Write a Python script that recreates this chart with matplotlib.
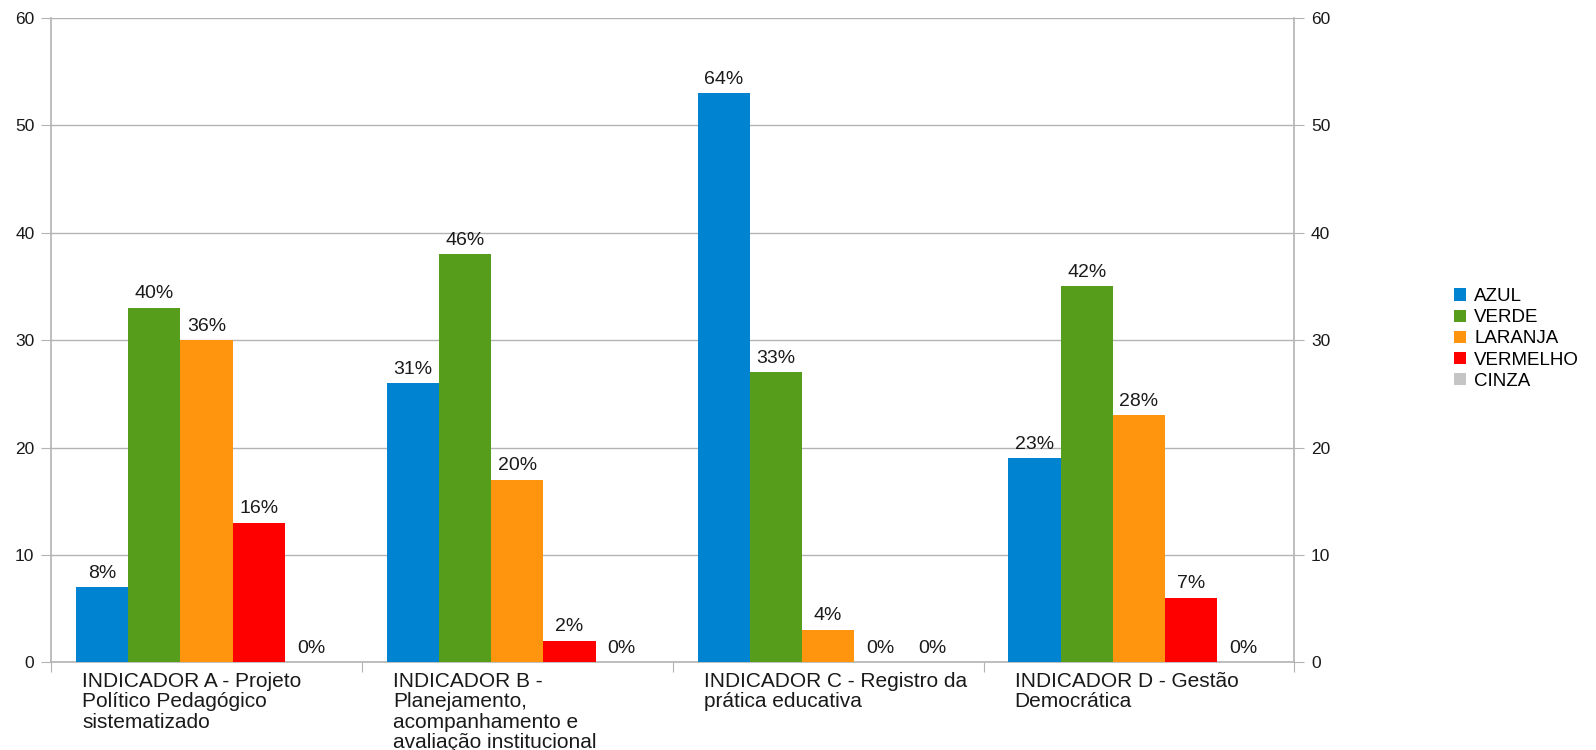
import numpy as np
import matplotlib
matplotlib.use('Agg')
import matplotlib.pyplot as plt
import matplotlib.ticker as ticker
from matplotlib.patches import Patch

plt.rcParams['font.family'] = ['Liberation Sans', 'DejaVu Sans']

categorias = ['INDICADOR A - Projeto\nPolítico Pedagógico\nsistematizado',
              'INDICADOR B -\nPlanejamento,\nacompanhamento e\navaliação institucional',
              'INDICADOR C - Registro da\nprática educativa',
              'INDICADOR D - Gestão\nDemocrática']
series = ['AZUL', 'VERDE', 'LARANJA', 'VERMELHO', 'CINZA']
cores = ['#0084d1', '#579d1c', '#ff950e', '#ff0000', '#c5c5c5']

azul = [7, 26, 53, 19]
verde = [33, 38, 27, 35]
laranja = [30, 17, 3, 23]
vermelho = [13, 2, 0, 6]
cinza = [0, 0, 0, 0]

pct_azul = ['8%', '31%', '64%', '23%']
pct_verde = ['40%', '46%', '33%', '42%']
pct_laranja = ['36%', '20%', '4%', '28%']
pct_vermelho = ['16%', '2%', '0%', '7%']
pct_cinza = ['0%', '0%', '0%', '0%']

valores = [azul, verde, laranja, vermelho, cinza]
rotulos = [pct_azul, pct_verde, pct_laranja, pct_vermelho, pct_cinza]

fig = plt.figure(figsize=(15.96, 7.5), dpi=100)
ax = fig.add_axes([0.032, 0.117, 0.779, 0.859])

cor_linha = '#b3b3b3'
cor_texto = '#1a1a1a'
largura = 0.168
centro = np.arange(len(categorias)) + 0.5

for k in range(len(series)):
    pos = centro + (k - 2) * largura
    barras = ax.bar(pos, valores[k], largura, color=cores[k], zorder=3)
    for b, txt in zip(barras, rotulos[k]):
        ax.annotate(txt, (b.get_x() + b.get_width() / 2, b.get_height()),
                    xytext=(0, 4), textcoords='offset points',
                    ha='center', va='bottom', fontsize=14, color=cor_texto)

ax.set_xlim(0, len(categorias))
ax.set_ylim(0, 60)
ax.yaxis.set_major_locator(ticker.MultipleLocator(10))
ax.set_xticks(np.arange(len(categorias) + 1))
ax.set_xticklabels([])
ax.grid(axis='y', color=cor_linha, linewidth=1, zorder=0)

# rótulos das categorias, alinhados à esquerda
for i, cat in enumerate(categorias):
    ax.annotate(cat, (i + 0.1, 0), xycoords=('data', 'axes fraction'),
                xytext=(0, -7), textcoords='offset points',
                ha='left', va='top', fontsize=15, color=cor_texto,
                linespacing=1.1)

ax.spines['top'].set_visible(False)
for s in ['left', 'right', 'bottom']:
    ax.spines[s].set_color(cor_linha)
    ax.spines[s].set_linewidth(1.2)
ax.tick_params(axis='y', which='both', left=True, right=True,
               labelleft=True, labelright=True, length=7,
               color=cor_linha, labelsize=12.5, labelcolor=cor_texto, pad=5)
ax.tick_params(axis='x', length=7, color=cor_linha)

handles = [Patch(facecolor=c, edgecolor='none') for c in cores]
fig.legend(handles, series, loc='center left', bbox_to_anchor=(0.905, 0.548),
           frameon=False, fontsize=13.5, handlelength=0.65, handleheight=0.65,
           handletextpad=0.45, labelspacing=0.22, borderpad=0)

fig.savefig('out.png', dpi=100)
